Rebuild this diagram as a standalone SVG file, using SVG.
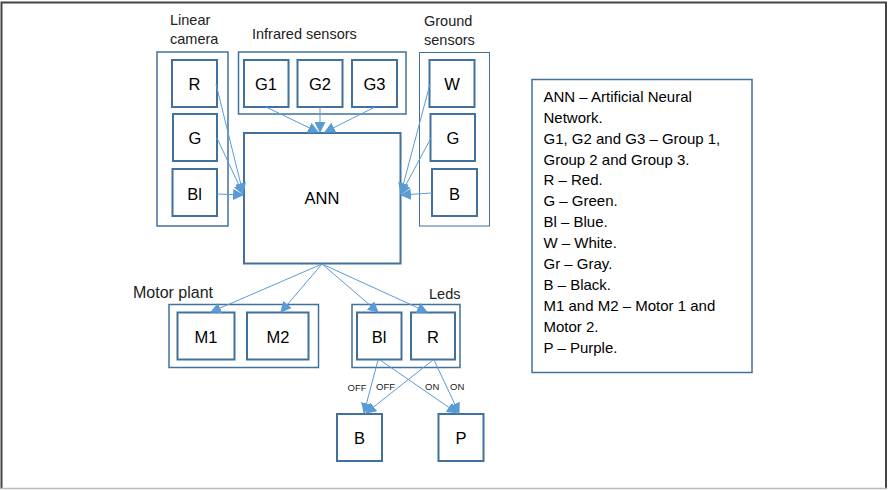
<svg xmlns="http://www.w3.org/2000/svg" width="888" height="490" viewBox="0 0 888 490">
<defs>
<marker id="ah" viewBox="0 0 10 10" refX="9" refY="5" markerWidth="11" markerHeight="11" markerUnits="userSpaceOnUse" orient="auto">
<path d="M0,0 L10,5 L0,10 z" fill="#5b9bd5"/>
</marker>
<style>
.grp{fill:#fff;stroke:#41719c;stroke-width:1.5}
.grp2{fill:#fff;stroke:#41719c;stroke-width:1}
.box{fill:#fff;stroke:#41719c;stroke-width:2}
.lbl{font-family:"Liberation Sans",Arial,sans-serif;font-size:16.5px;fill:#000;text-anchor:middle}
.cap{font-family:"Liberation Sans",Arial,sans-serif;font-size:14.5px;fill:#222}
.sm{font-family:"Liberation Sans",Arial,sans-serif;font-size:9.5px;fill:#222}
.leg{font-family:"Liberation Sans",Arial,sans-serif;font-size:15px;fill:#000}
.con{stroke:#5b9bd5;stroke-width:1;fill:none;marker-end:url(#ah)}
</style>
</defs>
<rect x="0" y="0" width="888" height="490" fill="#fff"/>
<path d="M1.5,489 L1.5,2.5 L886,2.5 L886,489" fill="none" stroke="#444" stroke-width="2"/>
<line x1="1" y1="488.5" x2="887" y2="488.5" stroke="#bbb" stroke-width="1.5"/>

<g id="linear-camera">
<rect class="grp" x="157" y="52" width="71" height="174"/>
<text class="cap" x="170" y="25">Linear</text>
<text class="cap" x="170" y="44">camera</text>
</g>
<g id="cam-R"><rect class="box" x="172" y="60" width="45" height="47"/><text class="lbl" x="194.5" y="89.5">R</text></g>
<g id="cam-G"><rect class="box" x="173" y="114" width="44" height="47"/><text class="lbl" x="195" y="143.5">G</text></g>
<g id="cam-Bl"><rect class="box" x="172.5" y="169" width="44.5" height="47"/><text class="lbl" x="194.5" y="200">Bl</text></g>

<g id="infrared-sensors">
<rect class="grp" x="238.5" y="52" width="167.5" height="62"/>
<text class="cap" x="252" y="39">Infrared sensors</text>
</g>
<g id="ir-G1"><rect class="box" x="244" y="60" width="44.5" height="47"/><text class="lbl" x="266" y="89.5">G1</text></g>
<g id="ir-G2"><rect class="box" x="297.5" y="60" width="45" height="47"/><text class="lbl" x="320" y="89.5">G2</text></g>
<g id="ir-G3"><rect class="box" x="352" y="60" width="45" height="47"/><text class="lbl" x="374.5" y="89.5">G3</text></g>

<g id="ground-sensors">
<rect class="grp2" x="419.5" y="52.5" width="70" height="173.5"/>
<text class="cap" x="424" y="26">Ground</text>
<text class="cap" x="424" y="45">sensors</text>
</g>
<g id="gs-W"><rect class="box" x="429.5" y="60" width="45" height="47"/><text class="lbl" x="452" y="89.5">W</text></g>
<g id="gs-G"><rect class="box" x="430.5" y="114" width="44.5" height="47"/><text class="lbl" x="453" y="143.5">G</text></g>
<g id="gs-B"><rect class="box" x="432" y="169" width="45" height="47"/><text class="lbl" x="454.5" y="199.5">B</text></g>

<g id="ANN"><rect class="box" x="244" y="133" width="156.5" height="130.5"/><text class="lbl" x="322" y="204">ANN</text></g>

<g id="motor-plant">
<rect class="grp" x="169" y="304.5" width="149.5" height="63"/>
<text class="cap" x="133" y="298" style="font-size:16px">Motor plant</text>
</g>
<g id="M1"><rect class="box" x="177.5" y="312.5" width="57" height="47"/><text class="lbl" x="206" y="342.5">M1</text></g>
<g id="M2"><rect class="box" x="247" y="312.5" width="61.5" height="47"/><text class="lbl" x="278" y="342.5">M2</text></g>

<g id="leds">
<rect class="grp" x="352" y="304.5" width="108" height="63"/>
<text class="cap" x="429" y="299">Leds</text>
</g>
<g id="led-Bl"><rect class="box" x="357" y="312.5" width="44.5" height="47"/><text class="lbl" x="379" y="342.5">Bl</text></g>
<g id="led-R"><rect class="box" x="411" y="312.5" width="44" height="47"/><text class="lbl" x="433" y="342.5">R</text></g>

<g id="out-B"><rect class="box" x="337" y="414" width="45" height="47"/><text class="lbl" x="359.5" y="444">B</text></g>
<g id="out-P"><rect class="box" x="438.5" y="414" width="45" height="47"/><text class="lbl" x="461" y="444">P</text></g>

<g id="connectors">
<line class="con" x1="216" y1="84" x2="243" y2="193"/>
<line class="con" x1="217" y1="138" x2="243" y2="194"/>
<line class="con" x1="217" y1="194" x2="243" y2="195"/>
<line class="con" x1="266" y1="107" x2="318" y2="132"/>
<line class="con" x1="320" y1="107" x2="320" y2="132"/>
<line class="con" x1="375" y1="107" x2="325" y2="132"/>
<line class="con" x1="430" y1="84" x2="401" y2="193"/>
<line class="con" x1="431" y1="138" x2="401" y2="194"/>
<line class="con" x1="432" y1="193" x2="401" y2="195"/>
<line class="con" x1="322" y1="264" x2="211" y2="312"/>
<line class="con" x1="322" y1="264" x2="281" y2="312"/>
<line class="con" x1="322" y1="264" x2="378" y2="312"/>
<line class="con" x1="322" y1="264" x2="427" y2="312"/>
<line class="con" x1="378" y1="360" x2="364" y2="413"/>
<line class="con" x1="433" y1="360" x2="366" y2="413"/>
<line class="con" x1="380" y1="360" x2="457" y2="413"/>
<line class="con" x1="434" y1="360" x2="459" y2="413"/>
<text class="sm" x="347.5" y="391">OFF</text>
<text class="sm" x="376" y="390">OFF</text>
<text class="sm" x="425" y="390">ON</text>
<text class="sm" x="450" y="390">ON</text>
</g>

<g id="legend">
<rect class="grp" x="532" y="79.5" width="220" height="293"/>
<text class="leg" x="543.5" y="102">ANN – Artificial Neural</text>
<text class="leg" x="543.5" y="123">Network.</text>
<text class="leg" x="543.5" y="144">G1, G2 and G3 – Group 1,</text>
<text class="leg" x="543.5" y="165">Group 2 and Group 3.</text>
<text class="leg" x="543.5" y="185">R – Red.</text>
<text class="leg" x="543.5" y="206">G – Green.</text>
<text class="leg" x="543.5" y="227">Bl – Blue.</text>
<text class="leg" x="543.5" y="248">W – White.</text>
<text class="leg" x="543.5" y="269">Gr – Gray.</text>
<text class="leg" x="543.5" y="290">B – Black.</text>
<text class="leg" x="543.5" y="311">M1 and M2 – Motor 1 and</text>
<text class="leg" x="543.5" y="332">Motor 2.</text>
<text class="leg" x="543.5" y="353">P – Purple.</text>
</g>
</svg>
